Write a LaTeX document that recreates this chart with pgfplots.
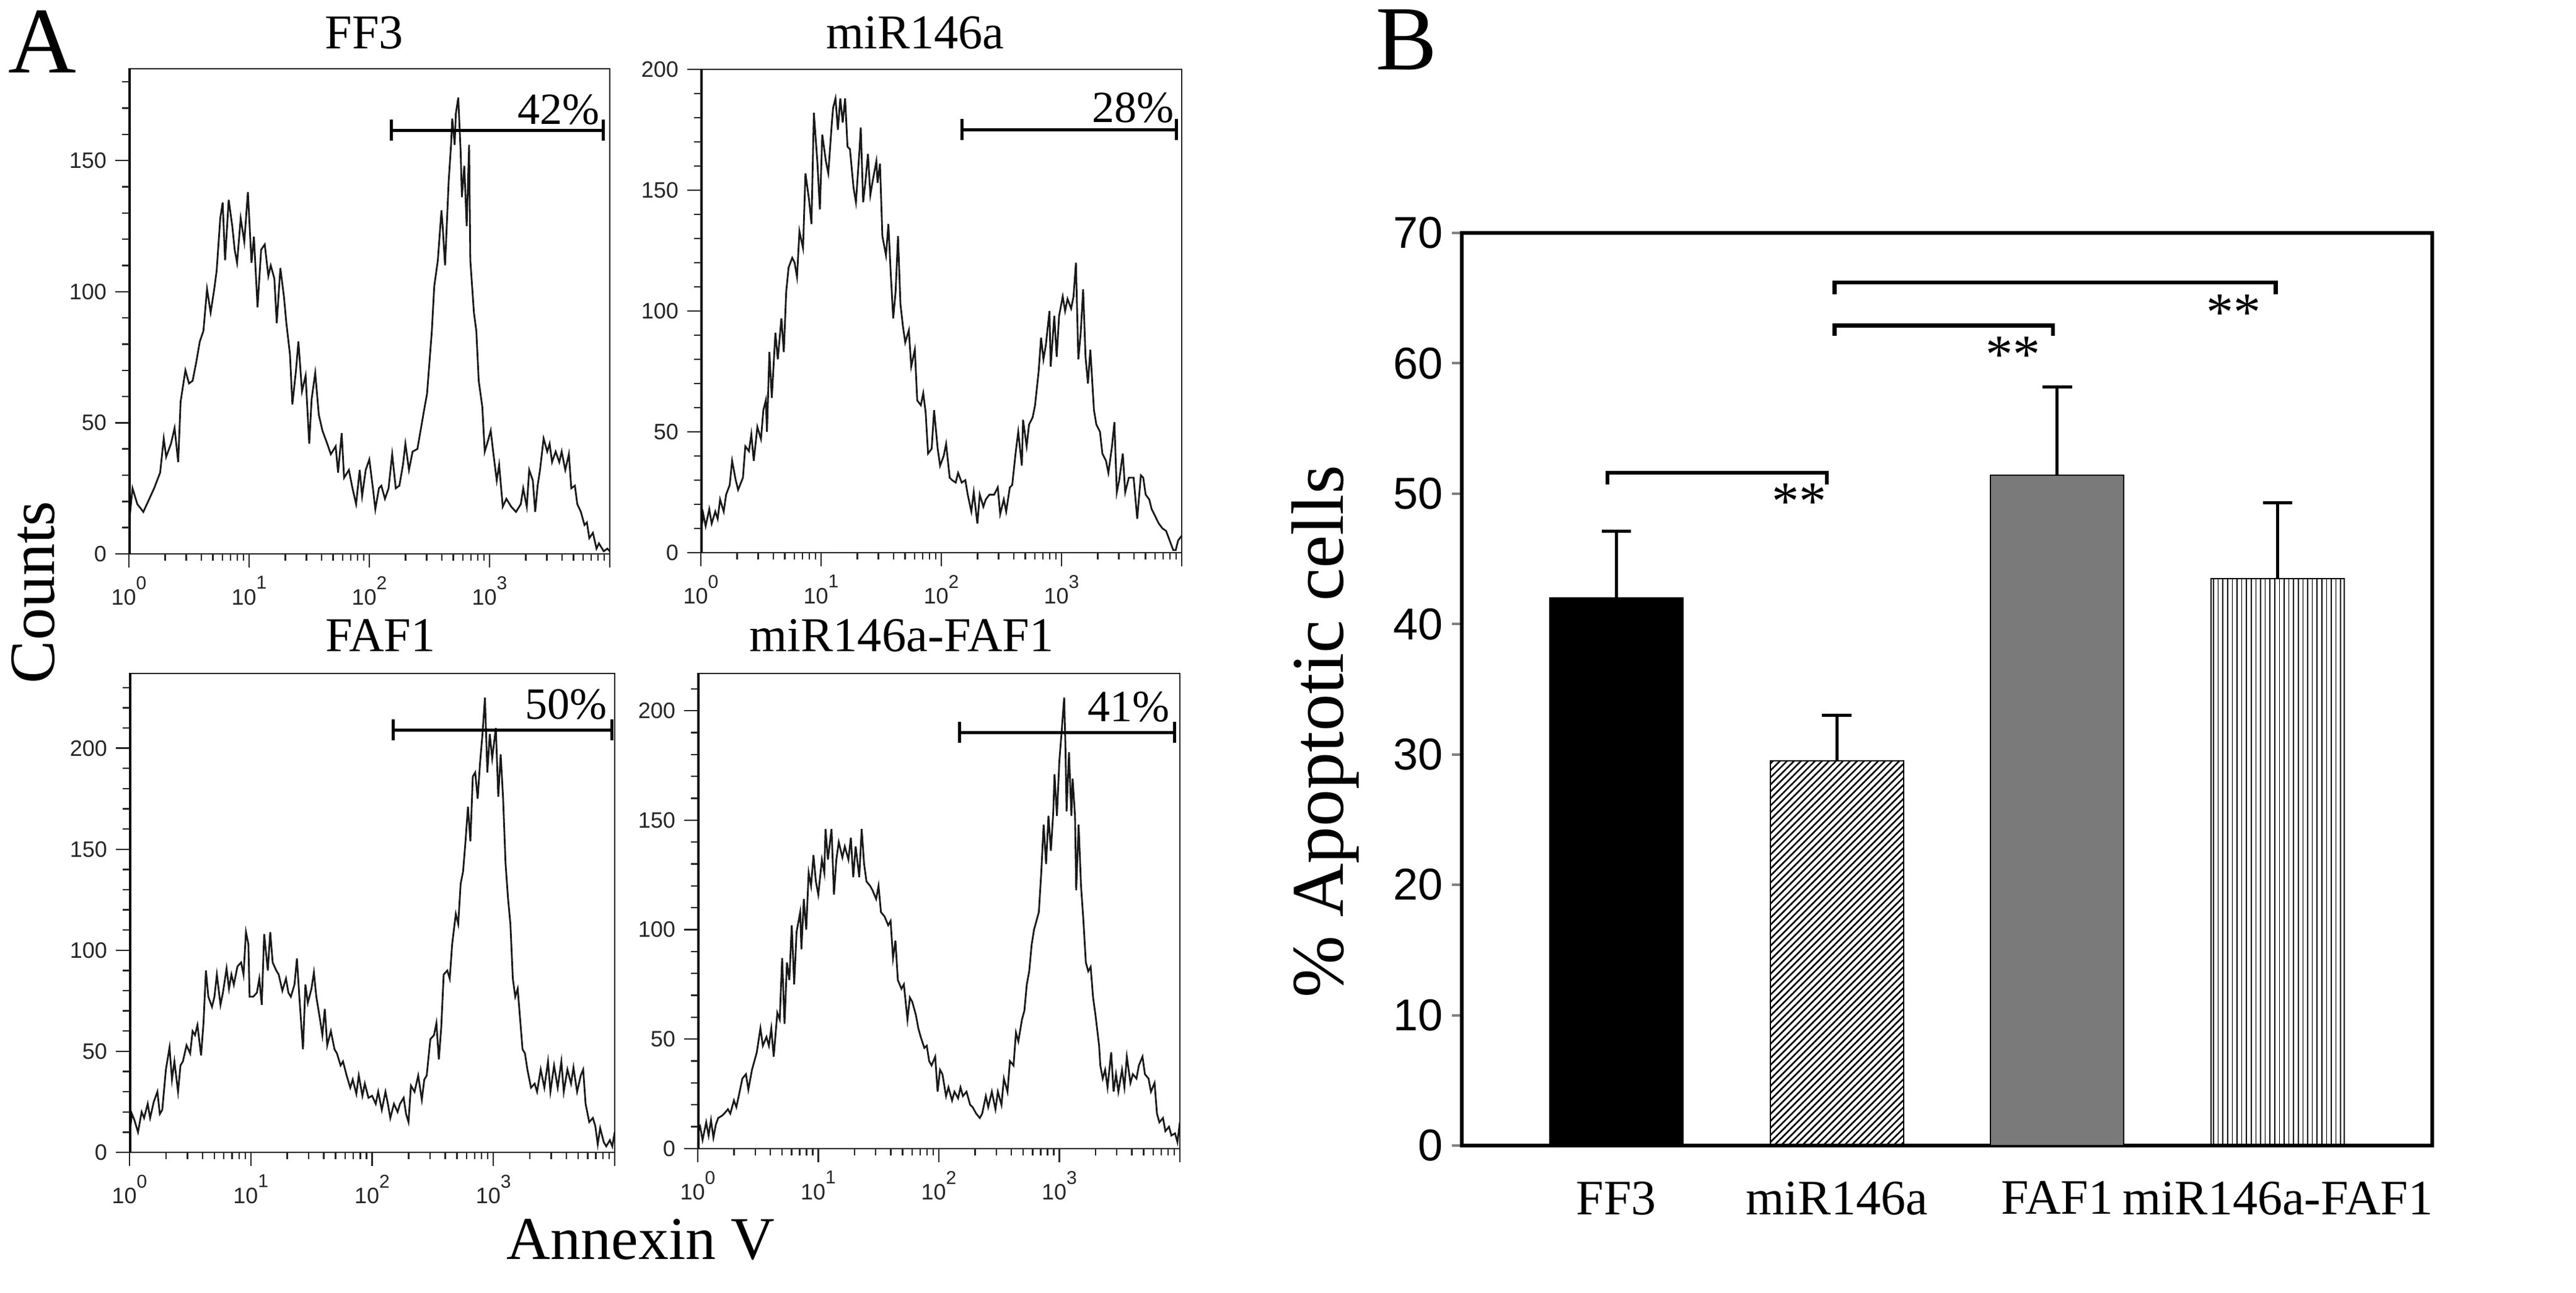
\documentclass[border=0pt]{standalone}
\usepackage{fontspec}
\setmainfont{Liberation Serif}
\setsansfont{Liberation Sans}
\usepackage{pgfplots}
\pgfplotsset{compat=1.18}
\usepackage{pgfplotstable}
\usetikzlibrary{patterns.meta,arrows.meta}

\newcommand{\tp}[1]{10\raisebox{0.72em}{\fontsize{7.5}{8}\selectfont #1}}

\pgfplotstableread{
x y
0.00 11
0.03 25
0.07 19
0.12 16
0.17 21
0.21 25
0.26 31
0.29 44
0.31 37
0.35 42
0.38 48
0.41 35
0.43 58
0.47 70
0.50 65
0.53 66
0.56 73
0.59 81
0.62 85
0.65 101
0.68 92
0.71 101
0.73 108
0.76 128
0.78 134
0.80 112
0.83 135
0.86 125
0.88 116
0.90 111
0.93 128
0.96 119
0.99 138
1.02 111
1.04 121
1.07 94
1.10 116
1.13 118
1.16 106
1.18 110
1.21 105
1.23 88
1.26 109
1.29 98
1.31 88
1.34 76
1.36 57
1.39 70
1.41 81
1.44 62
1.47 68
1.50 42
1.52 59
1.55 69
1.58 53
1.61 47
1.65 42
1.68 38
1.72 41
1.74 31
1.77 46
1.79 29
1.83 32
1.86 25
1.89 19
1.92 32
1.94 22
1.97 32
2.00 36
2.03 25
2.05 17
2.08 25
2.10 26
2.13 21
2.16 25
2.19 38
2.22 25
2.25 26
2.28 34
2.30 42
2.33 32
2.36 39
2.40 40
2.43 48
2.46 56
2.48 61
2.52 85
2.54 102
2.57 112
2.60 131
2.61 125
2.63 110
2.66 142
2.68 156
2.69 166
2.71 156
2.72 168
2.74 174
2.76 153
2.77 136
2.79 148
2.81 125
2.83 156
2.84 112
2.87 92
2.89 85
2.91 66
2.94 56
2.96 39
2.98 42
3.01 47
3.03 39
3.06 28
3.08 34
3.11 18
3.14 21
3.18 18
3.22 16
3.26 19
3.28 25
3.31 18
3.33 32
3.36 28
3.38 16
3.40 26
3.42 32
3.45 44
3.48 39
3.50 42
3.52 35
3.55 39
3.58 35
3.60 39
3.63 32
3.66 38
3.68 25
3.71 26
3.73 19
3.76 16
3.79 11
3.81 12
3.83 6
3.86 8
3.89 2
3.91 4
3.95 1
3.98 2
4.00 1
}\ffthree

\pgfplotstableread{
x y
0.00 8
0.02 16
0.04 11
0.07 18
0.09 12
0.12 17
0.14 14
0.16 22
0.19 17
0.21 24
0.24 28
0.26 38
0.29 30
0.31 26
0.35 31
0.37 44
0.40 42
0.42 49
0.44 38
0.47 52
0.50 47
0.52 59
0.54 63
0.55 50
0.57 83
0.59 64
0.62 91
0.64 80
0.67 97
0.69 83
0.71 108
0.73 118
0.76 122
0.78 120
0.80 114
0.82 133
0.85 126
0.87 157
0.90 146
0.92 136
0.94 182
0.97 161
0.99 142
1.01 173
1.04 162
1.06 157
1.09 178
1.10 184
1.12 188
1.14 175
1.16 188
1.18 178
1.20 188
1.22 168
1.24 167
1.27 151
1.29 145
1.32 167
1.33 176
1.35 145
1.37 154
1.39 165
1.41 148
1.43 154
1.46 162
1.47 153
1.49 161
1.51 131
1.54 123
1.56 136
1.58 115
1.60 97
1.62 108
1.64 131
1.66 103
1.68 94
1.70 87
1.73 92
1.75 77
1.78 84
1.80 63
1.83 61
1.85 66
1.87 58
1.89 41
1.92 43
1.94 59
1.97 43
1.99 36
2.02 40
2.04 45
2.07 31
2.09 30
2.12 29
2.14 33
2.17 29
2.20 30
2.22 24
2.25 17
2.27 25
2.30 12
2.32 24
2.35 19
2.37 22
2.40 24
2.44 24
2.47 27
2.49 16
2.52 22
2.54 17
2.57 27
2.59 28
2.62 42
2.64 50
2.67 36
2.68 55
2.71 44
2.73 53
2.76 56
2.78 61
2.81 75
2.83 89
2.85 80
2.87 86
2.90 100
2.91 77
2.94 98
2.96 81
2.98 98
3.01 106
3.03 100
3.05 105
3.08 101
3.10 106
3.12 120
3.14 80
3.16 91
3.18 109
3.20 81
3.22 70
3.24 84
3.27 59
3.29 53
3.32 50
3.34 41
3.37 38
3.39 33
3.42 44
3.44 54
3.46 25
3.48 30
3.51 41
3.53 25
3.56 31
3.58 31
3.60 31
3.63 14
3.66 32
3.68 31
3.70 24
3.73 22
3.75 18
3.79 14
3.81 12
3.84 10
3.87 9
3.90 5
3.93 1
3.95 1
3.97 5
4.00 7
}\mirtab

\pgfplotstableread{
x y
0.00 9
0.02 19
0.04 16
0.07 10
0.10 20
0.12 17
0.15 24
0.17 17
0.20 25
0.23 30
0.25 19
0.27 21
0.30 41
0.33 52
0.35 36
0.37 45
0.40 30
0.42 43
0.44 45
0.47 53
0.50 49
0.52 60
0.54 58
0.56 63
0.59 48
0.61 64
0.63 90
0.65 77
0.68 72
0.70 77
0.72 88
0.75 73
0.77 79
0.80 91
0.82 81
0.84 88
0.86 83
0.89 92
0.92 94
0.94 88
0.96 109
0.98 103
0.99 77
1.02 77
1.05 79
1.07 86
1.09 73
1.11 108
1.14 90
1.16 109
1.18 94
1.21 90
1.23 88
1.26 80
1.29 86
1.31 79
1.33 77
1.36 83
1.38 96
1.40 77
1.43 51
1.45 83
1.47 74
1.50 81
1.52 89
1.54 77
1.57 66
1.59 58
1.61 71
1.63 53
1.66 60
1.69 51
1.71 49
1.74 43
1.76 45
1.79 38
1.82 32
1.84 36
1.87 29
1.89 38
1.92 28
1.94 34
1.97 27
2.00 28
2.03 24
2.05 30
2.08 21
2.11 30
2.13 24
2.15 17
2.18 24
2.21 20
2.23 24
2.26 27
2.28 19
2.30 15
2.32 33
2.35 30
2.38 38
2.41 26
2.43 36
2.45 38
2.48 56
2.51 58
2.53 64
2.55 46
2.57 62
2.59 88
2.62 90
2.64 86
2.66 103
2.69 118
2.71 113
2.73 133
2.75 139
2.77 154
2.79 171
2.81 154
2.83 186
2.85 188
2.87 175
2.89 193
2.91 207
2.93 225
2.95 188
2.97 207
2.99 195
3.02 210
3.04 176
3.06 197
3.08 175
3.10 143
3.12 126
3.14 113
3.16 86
3.18 77
3.20 81
3.22 66
3.24 51
3.26 49
3.28 41
3.31 32
3.34 34
3.36 30
3.39 41
3.42 32
3.45 45
3.47 30
3.50 43
3.53 32
3.56 45
3.58 30
3.61 41
3.64 34
3.66 42
3.69 30
3.72 38
3.74 41
3.76 24
3.79 15
3.82 17
3.84 13
3.86 4
3.88 12
3.91 5
3.93 3
3.96 6
3.98 3
4.00 10
}\faftab

\pgfplotstableread{
x y
0.00 7
0.02 10
0.04 4
0.07 12
0.09 6
0.11 13
0.13 5
0.15 11
0.17 14
0.20 15
0.22 16
0.25 18
0.27 16
0.30 22
0.32 19
0.34 24
0.37 32
0.40 34
0.42 27
0.45 36
0.47 40
0.49 44
0.52 55
0.54 47
0.57 51
0.59 47
0.61 55
0.63 42
0.66 62
0.68 59
0.70 87
0.72 57
0.74 85
0.76 77
0.78 102
0.80 75
0.82 99
0.85 108
0.86 91
0.88 114
0.90 100
0.92 126
0.94 120
0.96 134
0.98 122
1.00 116
1.03 132
1.05 126
1.06 146
1.08 132
1.11 146
1.13 116
1.15 132
1.17 140
1.20 133
1.22 138
1.25 132
1.27 142
1.29 124
1.31 138
1.34 124
1.36 146
1.38 130
1.40 122
1.43 120
1.45 118
1.48 114
1.50 120
1.52 108
1.55 106
1.58 102
1.60 104
1.62 87
1.64 95
1.66 77
1.69 73
1.71 75
1.74 59
1.76 69
1.78 67
1.81 61
1.83 55
1.85 51
1.88 46
1.90 47
1.92 40
1.94 38
1.97 42
1.99 26
2.01 36
2.03 34
2.06 24
2.08 28
2.11 22
2.13 26
2.16 23
2.18 28
2.20 24
2.23 26
2.26 20
2.28 19
2.31 16
2.34 14
2.36 16
2.39 24
2.41 19
2.44 26
2.47 18
2.49 26
2.52 20
2.54 32
2.57 26
2.59 40
2.62 38
2.64 53
2.66 49
2.69 59
2.71 63
2.73 75
2.75 81
2.77 93
2.79 100
2.81 104
2.83 108
2.85 126
2.87 148
2.89 130
2.91 152
2.93 136
2.95 154
2.96 171
2.98 152
3.00 177
3.02 191
3.04 206
3.05 185
3.06 154
3.08 181
3.10 152
3.11 169
3.13 152
3.14 118
3.16 148
3.18 120
3.20 104
3.22 85
3.24 81
3.26 83
3.28 69
3.30 61
3.33 47
3.34 38
3.36 32
3.38 36
3.40 28
3.43 44
3.45 26
3.47 34
3.49 26
3.52 36
3.54 28
3.56 42
3.59 30
3.61 34
3.64 32
3.66 38
3.69 42
3.71 34
3.74 32
3.76 26
3.79 30
3.81 16
3.83 12
3.86 14
3.88 8
3.91 10
3.93 6
3.96 7
3.98 3
4.00 12
}\mirfaftab

\tikzset{
  curve/.style={line width=0.7pt, black!90},
  gate/.style={line width=1.25pt, black, {Bar[width=8.5pt]}-{Bar[width=8.5pt]}},
  glab/.style={anchor=base east, inner sep=0pt, font=\fontsize{18}{18}\selectfont},
  stars/.style={anchor=base, inner sep=0pt, font=\fontsize{22}{22}\selectfont},
}
\pgfplotsset{
  hist/.style={
    scale only axis, anchor=south west,
    xmin=0, xmax=4, ymin=0,
    axis line style={line width=0.5pt, black!85},
    tick align=outside, tick pos=left,
    xtick={0,1,2,3,4},
    xticklabels={\tp{0},\tp{1},\tp{2},\tp{3},{}},
    minor xtick={0.301,0.477,0.602,0.699,0.778,0.845,0.903,0.954,
      1.301,1.477,1.602,1.699,1.778,1.845,1.903,1.954,
      2.301,2.477,2.602,2.699,2.778,2.845,2.903,2.954,
      3.301,3.477,3.602,3.699,3.778,3.845,3.903,3.954},
    major tick length=5.5pt, minor tick length=2.75pt,
    tick style={line width=0.6pt, black!85},
    ticklabel style={font=\sffamily\fontsize{9}{10}\selectfont, text=black!85},
    /pgf/number format/assume math mode=true,
  },
  errb/.style={
    error bars/.cd, y dir=plus, y explicit,
    error bar style={line width=1.25pt, black},
    error mark=-,
    error mark options={rotate=90, line width=1.25pt, mark size=5.9pt, black},
  },
}

\begin{document}
\begin{tikzpicture}
\path[use as bounding box] (0,0) rectangle (1039.25pt,521.75pt);

% ---------- FF3 ----------
\begin{axis}[hist, at={(52pt,298.25pt)}, width=194pt, height=195.75pt,
  ymax=185, ytick={0,50,100,150}, minor ytick={10,20,...,180}]
\addplot[curve] table {\ffthree};
\draw[line width=1.3pt] (rel axis cs:0,0) -- (rel axis cs:0,1);
\draw[gate] (axis cs:2.17,161.6) -- (axis cs:3.96,161.6);
\node[glab, yshift=2.5pt] at (axis cs:3.92,161.6) {42\%};
\end{axis}

% ---------- miR146a ----------
\begin{axis}[hist, at={(282.75pt,298.75pt)}, width=194pt, height=195pt,
  ymax=200, ytick={0,50,100,150,200}, minor ytick={10,20,...,190}]
\addplot[curve] table {\mirtab};
\draw[line width=1.3pt] (rel axis cs:0,0) -- (rel axis cs:0,1);
\draw[gate] (axis cs:2.16,175) -- (axis cs:3.97,175);
\node[glab, yshift=3pt] at (axis cs:3.94,175) {28\%};
\end{axis}

% ---------- FAF1 ----------
\begin{axis}[hist, at={(52.25pt,56.75pt)}, width=195.75pt, height=193.25pt,
  ymax=237, ytick={0,50,100,150,200}, minor ytick={10,20,...,230}]
\addplot[curve] table {\faftab};
\draw[line width=1.3pt] (rel axis cs:0,0) -- (rel axis cs:0,1);
\draw[gate] (axis cs:2.16,209) -- (axis cs:3.99,209);
\node[glab, yshift=4.5pt] at (axis cs:3.94,209) {50\%};
\end{axis}

% ---------- miR146a-FAF1 ----------
\begin{axis}[hist, at={(281.5pt,58.25pt)}, width=194.5pt, height=191.75pt,
  ymax=217, ytick={0,50,100,150,200}, minor ytick={10,20,...,210}]
\addplot[curve] table {\mirfaftab};
\draw[line width=1.3pt] (rel axis cs:0,0) -- (rel axis cs:0,1);
\draw[gate] (axis cs:2.16,190) -- (axis cs:3.97,190);
\node[glab, yshift=4.5pt] at (axis cs:3.92,190) {41\%};
\end{axis}

% titles and labels of panel A
\node[anchor=base, font=\fontsize{19.6}{20}\selectfont] at (147pt,502pt) {FF3};
\node[anchor=base, font=\fontsize{19.6}{20}\selectfont] at (369.25pt,502pt) {miR146a};
\node[anchor=base, font=\fontsize{19.6}{20}\selectfont] at (153.5pt,258.75pt) {FAF1};
\node[anchor=base, font=\fontsize{19.6}{20}\selectfont] at (363.75pt,258.75pt) {miR146a-FAF1};
\node[anchor=base west, inner sep=0pt, font=\fontsize{38}{38}\selectfont] at (3.25pt,492.25pt) {A};
\node[anchor=base west, inner sep=0pt, font=\fontsize{37}{37}\selectfont] at (555pt,493.5pt) {B};
\node[rotate=90, anchor=base, inner sep=0pt, font=\fontsize{26}{26}\selectfont] at (21.75pt,282.75pt) {Counts};
\node[anchor=base west, inner sep=0pt, font=\fontsize{24.5}{25}\selectfont] at (204.25pt,13.5pt) {Annexin V};
\node[rotate=90, anchor=base, inner sep=0pt, font=\fontsize{30}{30}\selectfont] at (541.75pt,226.5pt) {\% Apoptotic cells};

% ---------- Panel B ----------
\begin{axis}[scale only axis, anchor=south west, at={(589.75pt,59.5pt)},
  width=391.5pt, height=368.25pt,
  xmin=0.3, xmax=4.7, ymin=0, ymax=70, ytick={0,10,...,70},
  xtick={1,2,3,4}, xticklabels={FF3,miR146a,FAF1,miR146a-FAF1},
  axis line style={line width=1.6pt},
  tick align=outside, ytick pos=left, xtick pos=bottom,
  xtick style={draw=none}, ytick style={line width=1pt},
  major tick length=4pt,
  yticklabel style={font=\sffamily\fontsize{18}{18}\selectfont},
  xticklabel style={font=\fontsize{20}{20}\selectfont, yshift=-7pt},
  /pgf/number format/assume math mode=true,
  ybar, bar width=53.75pt, bar shift=0pt, clip=false,
]
\addplot[fill=black, draw=black, line width=0.5pt, errb]
  coordinates {(1,42.0) +- (0,5.1)};
\addplot[draw=black, line width=0.5pt, pattern={Lines[angle=45,distance=2pt,line width=0.65pt]}, errb]
  coordinates {(2,29.5) +- (0,3.5)};
\addplot[fill=black!52, draw=black, line width=0.5pt, errb]
  coordinates {(3,51.4) +- (0,6.8)};
\addplot[draw=black, line width=0.5pt, pattern={Lines[angle=90,distance=1.9pt,line width=0.38pt]}, errb]
  coordinates {(4,43.5) +- (0,5.8)};
\draw[line width=1.6pt] (axis cs:0.96,50.7) -- (axis cs:0.96,51.6) -- (axis cs:1.955,51.6) -- (axis cs:1.955,50.7);
\draw[line width=1.6pt] (axis cs:1.99,62.1) -- (axis cs:1.99,62.9) -- (axis cs:2.98,62.9) -- (axis cs:2.98,62.1);
\draw[line width=1.6pt] (axis cs:1.99,65.3) -- (axis cs:1.99,66.2) -- (axis cs:3.99,66.2) -- (axis cs:3.99,65.3);
\node[stars] at (axis cs:1.83,48.0) {**};
\node[stars] at (axis cs:2.80,59.3) {**};
\node[stars] at (axis cs:3.80,62.5) {**};
\end{axis}
\end{tikzpicture}
\end{document}
